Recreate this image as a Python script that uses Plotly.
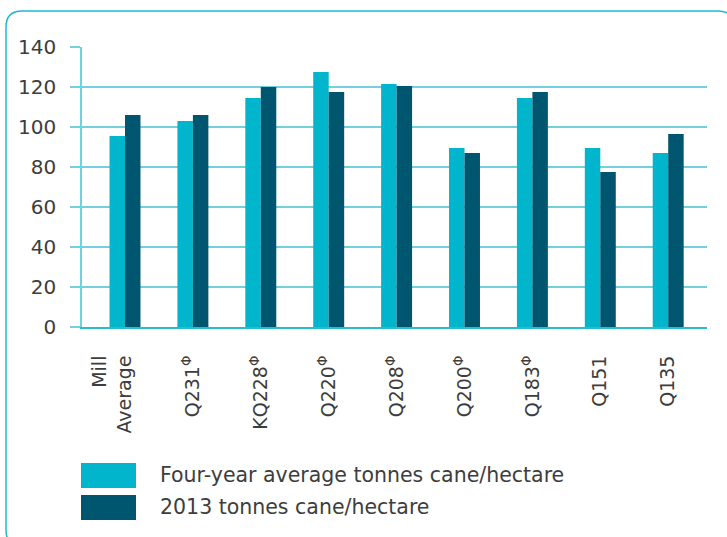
import plotly.graph_objects as go

# ---- data ----
categories = ["Mill<br>Average<br> ", "Q231<sup>Φ</sup>", "KQ228<sup>Φ</sup>", "Q220<sup>Φ</sup>",
              "Q208<sup>Φ</sup>", "Q200<sup>Φ</sup>", "Q183<sup>Φ</sup>", "Q151", "Q135"]
four_year_avg = [95.5, 103, 114.5, 127.5, 121.5, 89.5, 114.5, 89.5, 87]
tcph_2013 = [106, 106, 120, 117.5, 120.5, 87, 117.5, 77.5, 96.5]
series_names = ["Four-year average tonnes cane/hectare", "2013 tonnes cane/hectare"]
y_ticks = [0, 20, 40, 60, 80, 100, 120, 140]

# ---- style ----
W, H = 727, 537
ML, MR, MT, MB = 82, 20, 47, 210
PW, PH = W - ML - MR, H - MT - MB
C_LIGHT = "#00b5cc"
C_DARK = "#00566f"
C_GRID = "#72d1dd"
C_AXIS = "#2bbbcf"
C_TEXT = "#3d3d3d"
FONT = "DejaVu Sans"


def px(x):
    return (x - ML) / PW


def py(y):
    return (MT + PH - y) / PH


fig = go.Figure()
fig.add_trace(go.Bar(x=categories, y=four_year_avg, name=series_names[0],
                     marker=dict(color=C_LIGHT, line=dict(width=0))))
fig.add_trace(go.Bar(x=categories, y=tcph_2013, name=series_names[1],
                     marker=dict(color=C_DARK, line=dict(width=0))))

n = len(categories)
step = 67.9  # pixel spacing of bar groups
r0 = -(125 - ML) / step
r1 = r0 + PW / step

fig.update_layout(
    width=W, height=H,
    margin=dict(l=ML, r=MR, t=MT, b=MB, pad=0),
    paper_bgcolor="white", plot_bgcolor="white",
    barmode="group", bargap=0.544, bargroupgap=0,
    showlegend=False,
    font=dict(family=FONT, color=C_TEXT, size=20),
    xaxis=dict(type="category", range=[r0, r1], tickangle=-90, ticks="",
               showgrid=False, showline=True, linecolor=C_AXIS, linewidth=2,
               tickfont=dict(size=19, color=C_TEXT), ticklabelstandoff=19,
               categoryorder="array", categoryarray=categories),
    xaxis2=dict(overlaying="x", anchor="y", side="bottom", range=[0, n],
                tickvals=list(range(n + 1)), ticks="outside", ticklen=7,
                tickwidth=2, tickcolor=C_AXIS, showticklabels=False,
                showgrid=False, showline=False, zeroline=False),
    yaxis=dict(range=[0, 140], tickvals=y_ticks, showgrid=True, gridcolor=C_GRID,
               gridwidth=2, zeroline=False, showline=True, linecolor=C_GRID,
               linewidth=1.5, ticks="outside", ticklen=10, tickwidth=2,
               tickcolor=C_GRID, tickfont=dict(size=20, color=C_TEXT),
               ticklabelstandoff=10),
)

# legend drawn as swatches + text
swatch_rows = [(463, 488), (495, 520)]
for (top, bot), color, name in zip(swatch_rows, [C_LIGHT, C_DARK], series_names):
    fig.add_shape(type="rect", xref="paper", yref="paper",
                  x0=px(81), x1=px(136), y0=py(bot), y1=py(top),
                  fillcolor=color, line=dict(width=0))
    fig.add_annotation(xref="paper", yref="paper", x=px(158), y=py((top + bot) / 2 - 1),
                       text=name, showarrow=False, xanchor="left", yanchor="middle",
                       font=dict(size=20.5, color=C_TEXT, family=FONT))

# rounded border
L, R, T, B, r = 6, 734, 11, 546, 16
path = (f"M {px(L)} {py(T + r)} Q {px(L)} {py(T)} {px(L + r)} {py(T)} "
        f"L {px(R - r)} {py(T)} Q {px(R)} {py(T)} {px(R)} {py(T + r)} "
        f"L {px(R)} {py(B - r)} Q {px(R)} {py(B)} {px(R - r)} {py(B)} "
        f"L {px(L + r)} {py(B)} Q {px(L)} {py(B)} {px(L)} {py(B - r)} Z")
fig.add_shape(type="path", xref="paper", yref="paper", path=path,
              line=dict(color="#1fb9cf", width=1.5), fillcolor="rgba(0,0,0,0)", layer="below")

fig.write_html("out.html")
